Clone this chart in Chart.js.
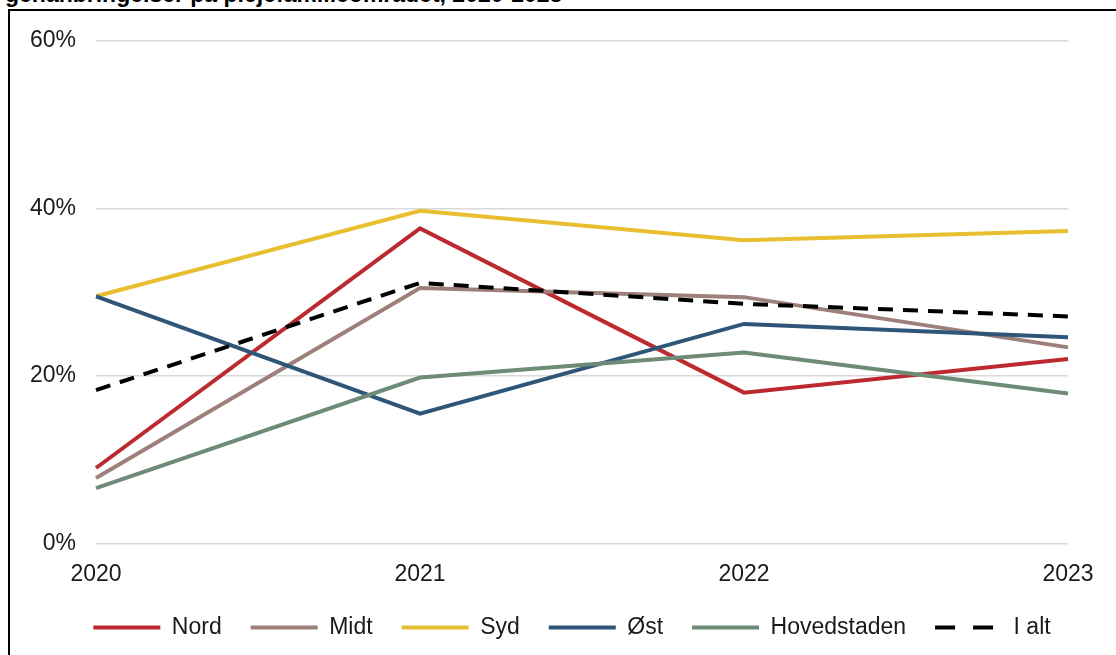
<!DOCTYPE html>
<html lang="da">
<head>
<meta charset="utf-8">
<title>Genanbringelser på plejefamilieområdet</title>
<script src="https://cdn.jsdelivr.net/npm/chart.js@4"></script>
<style>
  html, body { margin: 0; padding: 0; background: #fff; overflow: hidden; }
  body { width: 1116px; height: 655px; position: relative; font-family: "Liberation Sans", Arial, sans-serif; }
  #title {
    position: absolute; left: 5px; top: -19px; margin: 0; line-height: 1.15;
    font-size: 23px; font-weight: bold; color: #000; white-space: nowrap;
  }
  #frame {
    position: absolute; left: 8px; top: 9px; width: 1130px; height: 680px;
    border: 2px solid #000; box-sizing: border-box;
  }
  #wrap { position: absolute; left: 10px; top: 7px; width: 1106px; height: 652px; }
</style>
</head>
<body>
<h1 id="title">genanbringelser på plejefamilieområdet, 2020-2023</h1>
<div id="frame"></div>
<div id="wrap"><canvas id="lineChart"></canvas></div>

<script>
// ----- Data (andel i %) -----
const years       = ['2020', '2021', '2022', '2023'];
const nord        = [9.0, 37.6, 18.0, 22.0];
const midt        = [7.8, 30.5, 29.4, 23.4];
const syd         = [29.5, 39.7, 36.2, 37.3];
const oest        = [29.5, 15.5, 26.2, 24.6];
const hovedstaden = [6.6, 19.8, 22.8, 17.9];
const iAlt        = [18.3, 31.1, 28.6, 27.1];

const colors = {
  nord: '#BC2A30', midt: '#9E807B', syd: '#E8BF30',
  oest: '#2E5678', hoved: '#6E8B78', total: '#000000',
};

const series = [
  { label: 'Nord',        data: nord,        color: colors.nord },
  { label: 'Midt',        data: midt,        color: colors.midt },
  { label: 'Syd',         data: syd,         color: colors.syd },
  { label: 'Øst',         data: oest,        color: colors.oest },
  { label: 'Hovedstaden', data: hovedstaden, color: colors.hoved },
  { label: 'I alt',       data: iAlt,        color: colors.total, dash: [15, 10], legendDash: [20, 18] },
];

const FONT = { family: '"Liberation Sans", Arial, sans-serif', size: 23 };

// legend is centred on the padded width; nudge it like the original
const legendShift = {
  id: 'legendShift',
  afterLayout(chart) {
    const lg = chart.legend;
    lg.left += 33; lg.right += 33;
    lg.top -= 10;  lg.bottom -= 10;
  },
};

new Chart(document.getElementById('lineChart'), {
  type: 'line',
  data: {
    labels: years,
    datasets: series.map((s, i) => ({
      label: s.label,
      data: s.data,
      borderColor: s.color,
      backgroundColor: s.color,
      borderWidth: 4,
      borderDash: s.dash || [],
      tension: 0,
      pointRadius: 0,
      pointHoverRadius: 0,
      fill: false,
      order: -i, // later series drawn on top
    })),
  },
  plugins: [legendShift],
  options: {
    responsive: true,
    maintainAspectRatio: false,
    animation: false,
    layout: { padding: { left: 0, right: 48, top: 20, bottom: 0 } },
    plugins: {
      legend: {
        position: 'bottom',
        labels: {
          usePointStyle: true,
          pointStyle: 'line',
          pointStyleWidth: 67,
          boxHeight: 23,
          padding: 29,
          color: '#1a1a1a',
          font: FONT,
          sort: (a, b) => a.datasetIndex - b.datasetIndex,
          generateLabels: chart => Chart.defaults.plugins.legend.labels.generateLabels(chart).map(item => {
            const s = series[item.datasetIndex];
            return { ...item, lineWidth: 4, lineDash: s.legendDash || [], strokeStyle: s.color };
          }),
        },
      },
      tooltip: { enabled: false },
    },
    scales: {
      x: {
        grid: { display: false },
        border: { display: false },
        ticks: { color: '#1a1a1a', font: FONT, padding: 9, maxRotation: 0 },
      },
      y: {
        min: 0,
        max: 60,
        grid: { color: '#d9d9d9', lineWidth: 1.5, drawTicks: false },
        border: { display: false },
        ticks: { stepSize: 20, color: '#1a1a1a', font: FONT, padding: 20, callback: v => `${v}%` },
      },
    },
  },
});
</script>
</body>
</html>
